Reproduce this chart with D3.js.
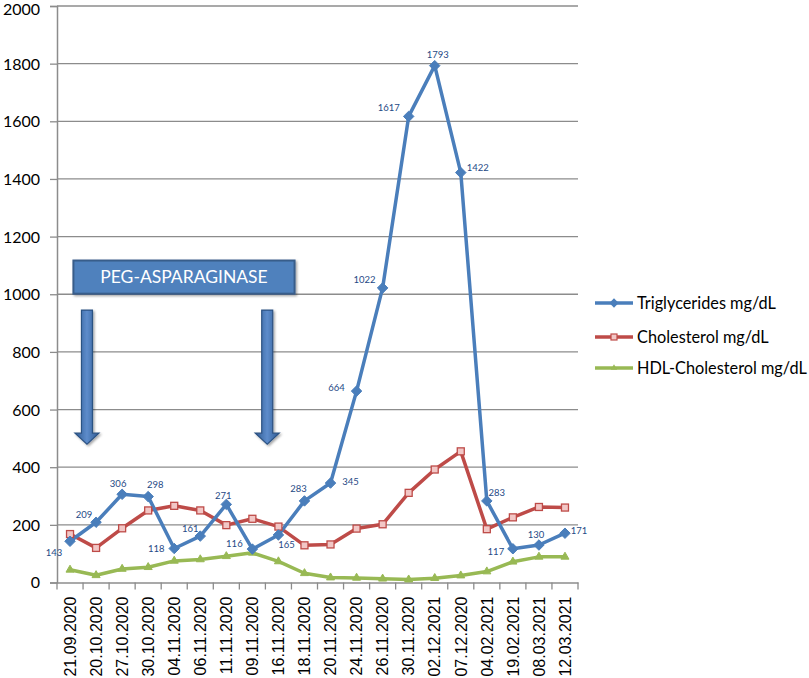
<!DOCTYPE html>
<html><head><meta charset="utf-8">
<script src="https://cdn.jsdelivr.net/npm/d3@7"></script>
<style>body{margin:0;background:#fff}svg{display:block}</style>
</head><body>
<svg id="c" width="809" height="678"></svg>
<script>
const dates = ["21.09.2020","20.10.2020","27.10.2020","30.10.2020","04.11.2020","06.11.2020","11.11.2020","09.11.2020","16.11.2020","18.11.2020","20.11.2020","24.11.2020","26.11.2020","30.11.2020","02.12.2021","07.12.2020","04.02.2021","19.02.2021","08.03.2021","12.03.2021"];
const triglycerides = [143,209,306,298,118,161,271,116,165,283,345,664,1022,1617,1793,1422,283,117,130,171];
const cholesterol = [168,120,188,250,266,250,199,221,194,129,132,187,202,311,392,455,185,226,262,260];
const hdl = [44,25,47,53,75,80,91,103,73,32,17,16,13,10,15,24,38,72,89,89];
const yTicks = [0,200,400,600,800,1000,1200,1400,1600,1800,2000];
const seriesNames = ["Triglycerides mg/dL","Cholesterol mg/dL","HDL-Cholesterol mg/dL"];
const annotationText = "PEG-ASPARAGINASE";
// label nudges (layout, px)
const labelNudge = [[-16,11],[-12,-8],[-4,-11],[7,-12],[-18,0],[-10,-7],[-3,-9],[-18,-5],[8,10],[-6,-12],[20,-1],[-20,-3],[-18,-8],[-20,-9],[3,-11],[17,-5],[10,-8],[-17,3],[-3,-10],[14,-3]];

const svg = d3.select("#c");
const L=57, R=578, T=6, B=582.5;
const x = d3.scaleBand().domain(dates.map((d,i)=>i)).range([L,R]);
const xc = i => x(i)+x.bandwidth()/2;
const xf = v => L + v*x.step(); // fractional position in band units
const y = d3.scaleLinear().domain([0,2000]).range([B,T]);
const grid="#8c8c8c";

// gridlines
svg.append("g").selectAll("line").data(yTicks.filter(v=>v>0)).join("line")
  .attr("x1",L).attr("x2",R).attr("y1",d=>y(d)).attr("y2",d=>y(d))
  .attr("stroke",grid).attr("stroke-width",1.3);

// y axis
const ya = svg.append("g").attr("transform",`translate(${L},0)`)
  .call(d3.axisLeft(y).tickValues(yTicks).tickSize(7).tickPadding(10).tickFormat(d3.format("d")));
ya.select(".domain").attr("stroke",grid).attr("stroke-width",1.5);
ya.selectAll(".tick line").attr("stroke",grid).attr("stroke-width",1.3);
ya.selectAll("text").attr("font-family","Lato, sans-serif").attr("font-size",16).attr("fill","#000")
  .attr("dy",d=>d===2000?"0.5em":"0.34em");

// x axis
const xa = svg.append("g").attr("transform",`translate(0,${B})`)
  .call(d3.axisBottom(x).tickSize(0).tickFormat(i=>dates[i]));
xa.select(".domain").attr("stroke",grid).attr("stroke-width",1.5);
xa.selectAll(".tick text").attr("font-family","'Liberation Sans', Arial, sans-serif").attr("font-size",16).attr("fill","#000")
  .attr("transform","rotate(-90)").attr("text-anchor","end").attr("x",-14).attr("y",0).attr("dy","0.36em");
svg.append("g").selectAll("line").data(d3.range(dates.length+1)).join("line")
  .attr("x1",d=>xf(d)).attr("x2",d=>xf(d)).attr("y1",B).attr("y2",B+7)
  .attr("stroke",grid).attr("stroke-width",1.3);

// annotation box
const defs = svg.append("defs");
const g1 = defs.append("linearGradient").attr("id","arrowGrad").attr("x1","0").attr("x2","1").attr("y1","0").attr("y2","0");
g1.append("stop").attr("offset","0").attr("stop-color","#2f5a92");
g1.append("stop").attr("offset","0.5").attr("stop-color","#5d8ccb");
g1.append("stop").attr("offset","1").attr("stop-color","#2f5a92");
const f = defs.append("filter").attr("id","sh").attr("x","-10%").attr("y","-10%").attr("width","130%").attr("height","140%");
f.append("feDropShadow").attr("dx",1.5).attr("dy",1.5).attr("stdDeviation",1).attr("flood-color","#000").attr("flood-opacity",0.35);

const bx0 = xf(0.63), bx1 = xf(9.12), by0 = y(1117), by1 = y(1002);
svg.append("rect").attr("x",bx0).attr("y",by0).attr("width",bx1-bx0).attr("height",by1-by0)
  .attr("fill","#4f81bd").attr("stroke","#385d8a").attr("stroke-width",2).attr("filter","url(#sh)");
svg.append("text").attr("x",(bx0+bx1)/2).attr("y",(by0+by1)/2).attr("dy","0.36em")
  .attr("text-anchor","middle").attr("font-family","Lato, sans-serif").attr("font-size",17.5)
  .attr("fill","#fff").text(annotationText);

// arrows
function arrow(cx){
  const top=y(945), tip=y(480), headTop=y(518), sw=5.5, hw=12;
  const X=xf(cx);
  const p = `M${X-sw},${top}L${X+sw},${top}L${X+sw},${headTop}L${X+hw},${headTop}L${X},${tip}L${X-hw},${headTop}L${X-sw},${headTop}Z`;
  svg.append("path").attr("d",p).attr("fill","url(#arrowGrad)").attr("stroke","#2c5283").attr("stroke-width",1.2).attr("filter","url(#sh)");
}
arrow(1.15); arrow(8.07);

// series lines
const line = d3.line().x((d,i)=>xc(i)).y(d=>y(d));
const cols = ["#4a7ebb","#be4b48","#98b954"];
[hdl,cholesterol,triglycerides].forEach((s,k)=>{
  svg.append("path").datum(s).attr("d",line).attr("fill","none")
    .attr("stroke",[cols[2],cols[1],cols[0]][k]).attr("stroke-width",3.5).attr("stroke-linejoin","round");
});
// markers
svg.append("g").selectAll("path").data(hdl).join("path")
  .attr("d",d3.symbol(d3.symbolTriangle,28)).attr("transform",(d,i)=>`translate(${xc(i)},${y(d)})`)
  .attr("fill",cols[2]).attr("stroke",cols[2]);
svg.append("g").selectAll("rect").data(cholesterol).join("rect")
  .attr("x",(d,i)=>xc(i)-3.5).attr("y",d=>y(d)-3.5).attr("width",7).attr("height",7)
  .attr("fill","#f2c7c6").attr("stroke",cols[1]).attr("stroke-width",1.3);
svg.append("g").selectAll("path").data(triglycerides).join("path")
  .attr("d",d3.symbol(d3.symbolDiamond2 || d3.symbolDiamond,70)).attr("transform",(d,i)=>`translate(${xc(i)},${y(d)})`)
  .attr("fill",cols[0]).attr("stroke",cols[0]);

// data labels
svg.append("g").selectAll("text").data(triglycerides).join("text")
  .attr("x",(d,i)=>xc(i)+labelNudge[i][0]).attr("y",(d,i)=>y(d)+labelNudge[i][1]).attr("dy","0.35em")
  .attr("text-anchor","middle").attr("font-family","Lato, sans-serif").attr("font-size",9.5)
  .attr("fill","#1f4a86").text(d=>d);

// legend
const lg = svg.append("g");
const ly = [303,337,368];
const sym = [d3.symbol(d3.symbolDiamond2 || d3.symbolDiamond,55), null, d3.symbol(d3.symbolTriangle,18)];
seriesNames.forEach((n,k)=>{
  lg.append("line").attr("x1",595).attr("x2",633).attr("y1",ly[k]).attr("y2",ly[k]).attr("stroke",cols[k]).attr("stroke-width",3.5);
  if(k===1) lg.append("rect").attr("x",611).attr("y",ly[k]-3).attr("width",6).attr("height",6).attr("fill","#f2c7c6").attr("stroke",cols[1]).attr("stroke-width",1.2);
  else lg.append("path").attr("d",sym[k]).attr("transform",`translate(614,${ly[k]})`).attr("fill",cols[k]);
  lg.append("text").attr("x",637).attr("y",ly[k]).attr("dy","0.36em").attr("font-family","Lato, sans-serif")
    .attr("font-size",16.3).attr("fill","#000").text(n);
});
</script>
</body></html>
